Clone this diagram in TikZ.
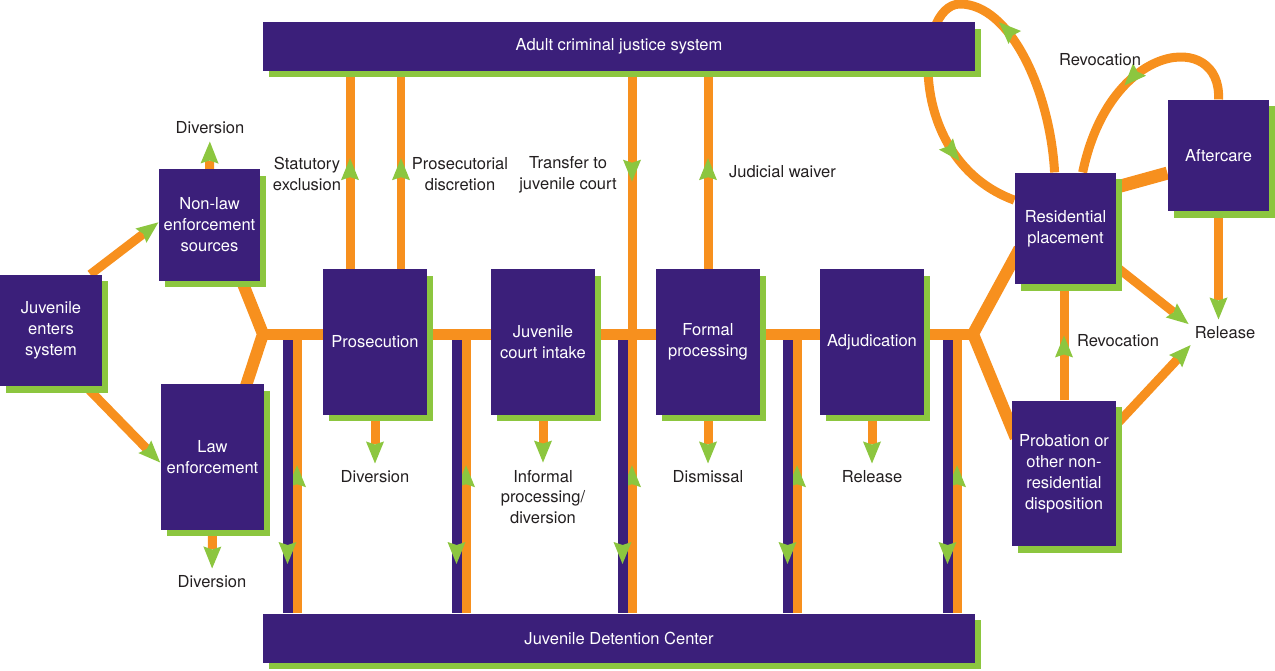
\documentclass[tikz,border=0pt]{standalone}
\usepackage{fontspec}
\setmainfont{TeX Gyre Heros}
\usetikzlibrary{arrows.meta,decorations.markings,shadows}
\definecolor{jpurple}{HTML}{3B1F7A}
\definecolor{jorange}{HTML}{F7901E}
\definecolor{jgreen}{HTML}{8CC63F}
\definecolor{jtext}{HTML}{231F20}
\pgfdeclarelayer{background}
\pgfsetlayers{background,main}
\tikzset{
  gtip/.tip={Stealth[color=jgreen, length=0.44cm, width=0.36cm, inset=0.06cm, line width=0pt]},
  midarrow/.style={postaction={decorate},
    decoration={markings, mark=at position #1 with {\arrow{gtip}}}},
  twoarrows/.style 2 args={postaction={decorate},
    decoration={markings, mark=at position #1 with {\arrow{gtip}},
      mark=at position #2 with {\arrow{gtip}}}},
}

\begin{document}
\begin{tikzpicture}[x=0.02cm, y=-0.02cm,
    font=\fontsize{9.4}{11.9}\selectfont, text=jtext,
    stage/.style={fill=jpurple, text=white, align=center, inner sep=0pt,
      general shadow={fill=jgreen, shadow xshift=0.12cm, shadow yshift=-0.13cm}},
    wide/.style={stage, minimum width=14.24cm, minimum height=0.98cm},
    small/.style={stage, minimum width=2.03cm, minimum height=2.23cm},
    tall/.style={stage, minimum width=2.08cm, minimum height=2.92cm},
    lab/.style={align=center, inner sep=1pt},
    flowline/.style={draw=jorange, line width=0.18cm},
    trunk/.style={draw=jorange, line width=0.22cm, line join=miter},
    detain/.style={draw=jpurple, line width=0.2cm},
    exitflow/.style={flowline, -{gtip}, shorten >=3pt}]
  \useasboundingbox (0,0) rectangle (1275,670);
  % ---- boxes ---------------------------------------------------------
  \node[wide] (adult) at (619,46.5) {Adult criminal justice system};
  \node[wide] (jdc) at (619,638) {Juvenile Detention Center};
  \node[small] (enter) at (51,330.5) {Juvenile\\enters\\system};
  \node[small] (nonlaw) at (209.5,225) {Non-law\\enforcement\\sources};
  \node[tall] (law) at (212.5,457) {Law\\enforcement};
  \node[tall] (pros) at (375,342) {Prosecution};
  \node[tall] (intake) at (543,342) {Juvenile\\court intake};
  \node[tall] (formal) at (708,342) {Formal\\processing};
  \node[tall] (adj) at (872,342) {Adjudication};
  \node[small] (resid) at (1065.5,228.5) {Residential\\placement};
  \node[small] (after) at (1218.5,155.5) {Aftercare};
  \node[tall] (prob) at (1064,473.5) {Probation or\\other non-\\residential\\disposition};
  % ---- labels --------------------------------------------------------
  \node[lab] (div1) at (210,128) {Diversion};
  \node[lab] (div2) at (212,582) {Diversion};
  \node[lab] (div3) at (375,477) {Diversion};
  \node[lab] (informal) at (543,497) {Informal\\processing/\\diversion};
  \node[lab] (dismiss) at (708,477) {Dismissal};
  \node[lab] (rel1) at (872,477) {Release};
  \node[lab] (rel2) at (1225,333) {Release};
  \node[lab] (statex) at (307,174) {Statutory\\exclusion};
  \node[lab] (prosdis) at (460,174) {Prosecutorial\\discretion};
  \node[lab] (transfer) at (568,175) {Transfer to\\juvenile court};
  \node[lab, anchor=west] (waiver) at (727,172) {Judicial waiver};
  \node[lab] (revoc1) at (1100,60) {Revocation};
  \node[lab] (revoc2) at (1118,341) {Revocation};
  % ---- connectors ----------------------------------------------------
  \begin{pgfonlayer}{background}
    \coordinate (jl) at (263,334);
    \coordinate (jr) at (973,334);
    \draw[trunk] (jl) -- (jr);
    \draw[trunk, line width=0.24cm, shorten <=-6pt, shorten >=-6pt]
      (nonlaw.-60) -- (jl) -- (law.65);
    \draw[trunk, line width=0.24cm, shorten <=-6pt, shorten >=-6pt]
      (resid.-150) -- (jr) -- (prob.139);
    % into and out of detention
    \foreach \x in {297,466,632,797,957}{
      \draw[flowline, midarrow=0.53] (\x,0 |- jdc.north) -- (\x,334);
      \draw[detain, midarrow=0.82] (\x-9.5,340) -- (\x-9.5,0 |- jdc.north);
    }
    % to and from the adult system
    \draw[flowline, midarrow=0.56] ([xshift=-0.5cm]pros.north)
      -- ([xshift=-0.5cm]pros.north |- adult.south);
    \draw[flowline, midarrow=0.56] ([xshift=0.52cm]pros.north)
      -- ([xshift=0.52cm]pros.north |- adult.south);
    \draw[flowline, midarrow=0.56] (formal.north) -- (formal.north |- adult.south);
    \draw[flowline, midarrow=0.42] (632,0 |- adult.south) -- (632,334);
    % entry
    \draw[flowline, -{gtip}] (enter.55) -- (nonlaw.177);
    \draw[flowline, -{gtip}] (enter.-58) -- (law.186);
    % exits
    \draw[exitflow] (nonlaw.north) -- (div1);
    \draw[exitflow] (law.south) -- (div2);
    \draw[exitflow] (pros.south) -- (div3);
    \draw[exitflow] (intake.south) -- (informal);
    \draw[exitflow] (formal.south) -- (dismiss);
    \draw[exitflow] (adj.south) -- (rel1);
    % after disposition
    \draw[exitflow] (resid.-37) -- (rel2.170);
    \draw[exitflow] (prob.43) -- (rel2.195);
    \draw[exitflow] (after.south) -- (after.south |- rel2.north);
    \draw[flowline, midarrow=0.56] (prob.north) -- (prob.north |- resid.south);
    \draw[flowline, line width=0.26cm] (resid.39) -- (after.199);
    \draw[flowline, twoarrows={0.36}{0.85}] (resid.101)
      .. controls (1050,90) and (1010,4) .. (960,4)
      .. controls (915,4) and (905,160) .. (resid.151);
    \draw[flowline, midarrow=0.57] (after.north)
      .. controls (1222,30) and (1110,40) .. (resid.73);
  \end{pgfonlayer}
\end{tikzpicture}
\end{document}
